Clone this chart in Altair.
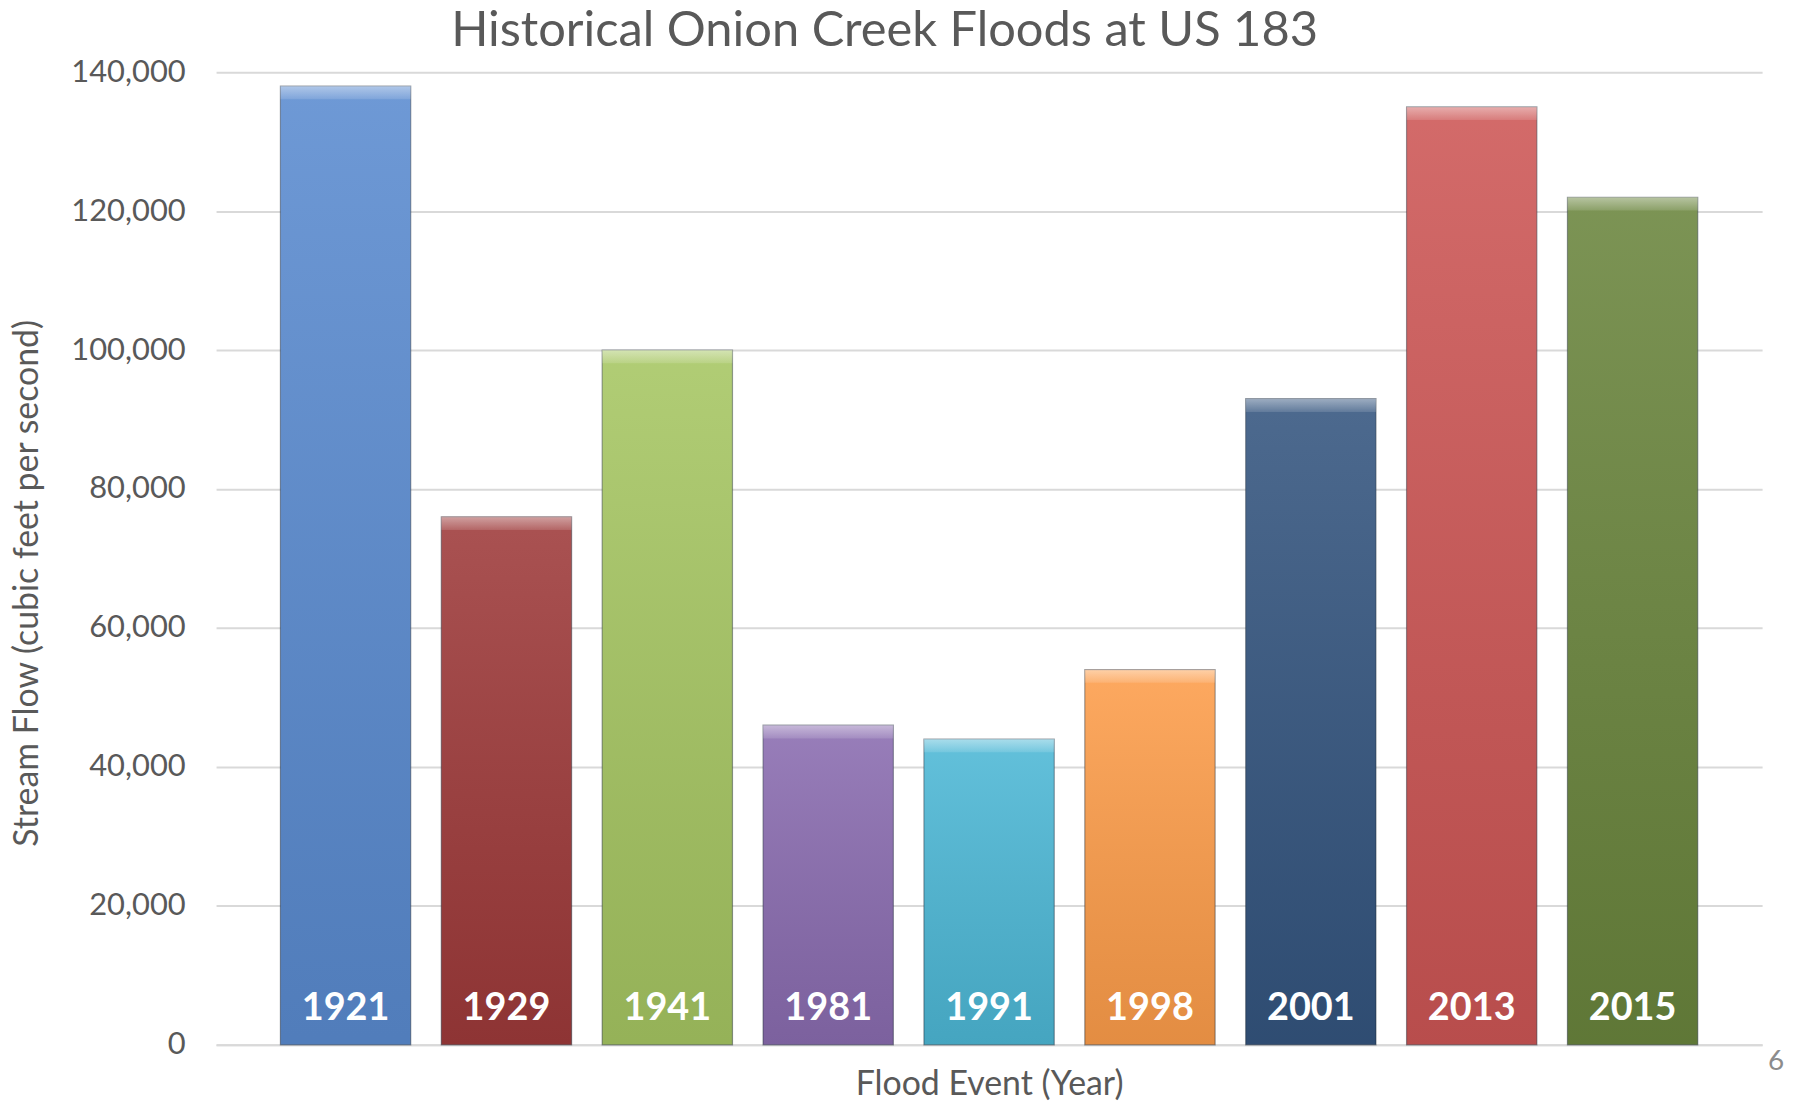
import altair as alt
import pandas as pd

years = ["1921", "1929", "1941", "1981", "1991", "1998", "2001", "2013", "2015"]
flows = [138000, 76000, 100000, 46000, 44000, 54000, 93000, 135000, 122000]
colors = ["#5a8bd0", "#9e3a3a", "#a6c662", "#8a6cb0", "#4db8d6", "#fd9d4a", "#34557f", "#cd5655", "#6a853d"]
y_ticks = [0, 20000, 40000, 60000, 80000, 100000, 120000, 140000]

df = pd.DataFrame({"year": years, "flow": flows, "color": colors})

W, H = 1553, 977
FONT = "Lato"
GREY = "#595959"

x = alt.X("year:N", sort=years, title="Flood Event (Year)",
          scale=alt.Scale(paddingInner=0.19, paddingOuter=0.4),
          axis=alt.Axis(labels=False, ticks=False, domain=True, domainColor="#d9d9d9",
                        domainWidth=2, titleFont=FONT, titleFontSize=34,
                        titleFontWeight="normal", titleColor=GREY,
                        titleY=40, titleBaseline="middle"))
y = alt.Y("flow:Q", title="Stream Flow (cubic feet per second)",
          scale=alt.Scale(domain=[0, 140000], nice=False),
          axis=alt.Axis(values=y_ticks, format=",.0f", domain=False, ticks=False,
                        labelFont=FONT, labelFontSize=31, labelColor=GREY, labelPadding=31,
                        gridColor="#d9d9d9", gridWidth=2,
                        titleFont=FONT, titleFontSize=34, titleFontWeight="normal",
                        titleColor=GREY, titleAngle=-90, titleX=-189, titleY=513,
                        titleAlign="center", titleBaseline="middle"))

base = alt.Chart(df)

bars = base.mark_bar(stroke="#1f2a38", strokeOpacity=0.45, strokeWidth=1.2).encode(
    x=x, y=y, color=alt.Color("color:N", scale=None)
)

shade = base.mark_bar(
    color=alt.Gradient(
        gradient="linear", x1=0, x2=0, y1=0, y2=1,
        stops=[alt.GradientStop(offset=0, color="rgba(255,255,255,0.12)"),
               alt.GradientStop(offset=1, color="rgba(0,0,0,0.10)")])
).encode(x=alt.X("year:N", sort=years), y="flow:Q")

bevel = base.transform_calculate(lo="datum.flow - 1900").mark_bar(
    color=alt.Gradient(
        gradient="linear", x1=0, x2=0, y1=0, y2=1,
        stops=[alt.GradientStop(offset=0, color="rgba(255,255,255,0.45)"),
               alt.GradientStop(offset=1, color="rgba(255,255,255,0.12)")])
).encode(x=alt.X("year:N", sort=years), y="flow:Q", y2="lo:Q")

labels = base.transform_calculate(zero="0").mark_text(
    font=FONT, fontSize=38, fontWeight="bold", color="white", dy=-25, baseline="alphabetic"
).encode(x=alt.X("year:N", sort=years), y=alt.Y("zero:Q"), text="year:N")

page = alt.Chart(pd.DataFrame({"t": ["6"]})).mark_text(
    font=FONT, fontSize=28, color="#8c8c8c", align="center", baseline="middle"
).encode(x=alt.value(W + 14), y=alt.value(H + 17), text="t:N")

chart = alt.layer(bars, shade, bevel, labels, page).properties(
    width=W, height=H,
    title=alt.TitleParams("Historical Onion Creek Floods at US 183", font=FONT,
                          fontSize=49, fontWeight="normal", color=GREY, dx=-105,
                          offset=0),
    padding={"left": 209, "top": 62, "right": 24, "bottom": 56},
    autosize=alt.AutoSizeParams(type="none"),
).configure_view(stroke=None)

chart.save("out.html", embed_options={"renderer": "svg", "actions": False})
